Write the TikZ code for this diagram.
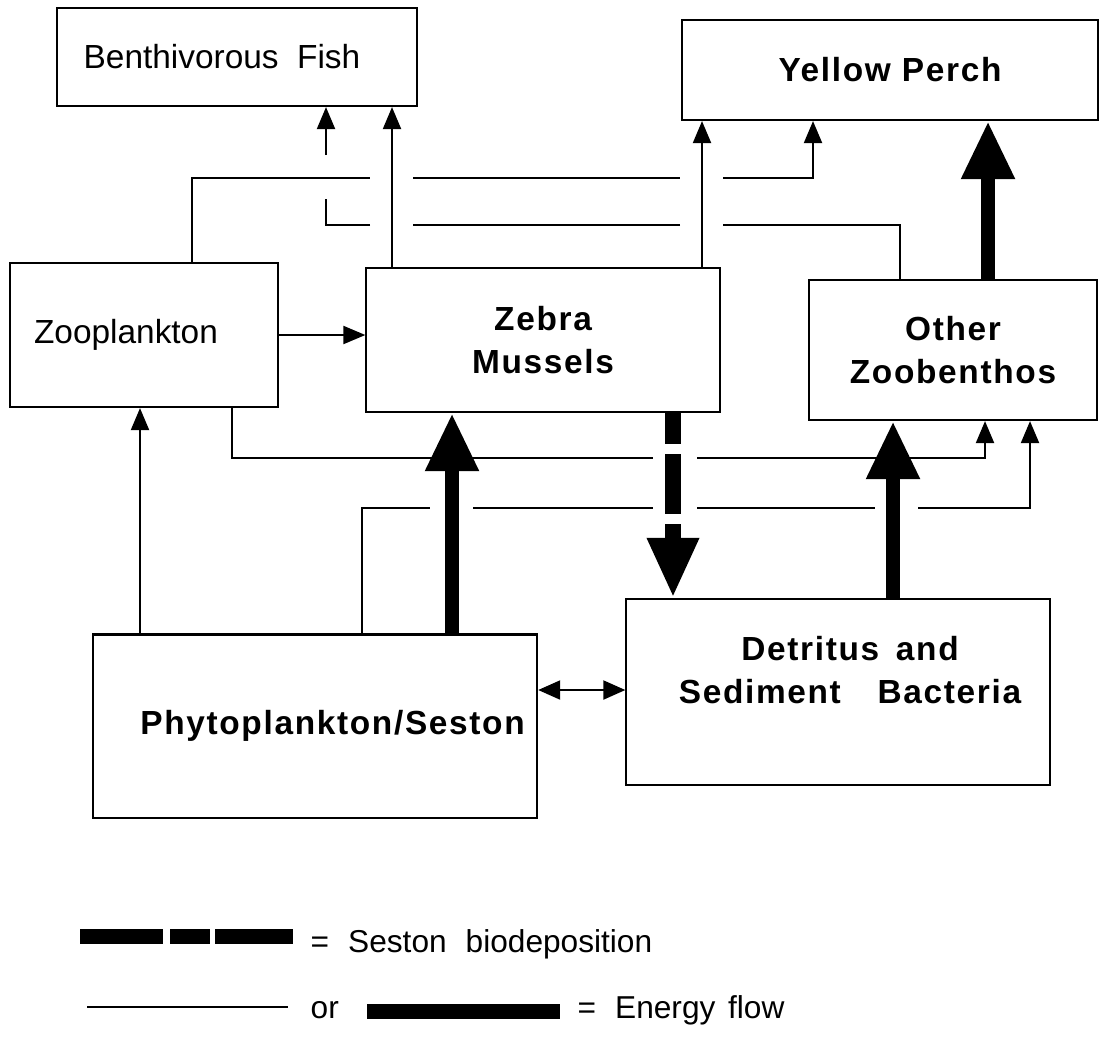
\documentclass[tikz,border=0pt]{standalone}
\usepackage{fontspec}
\setmainfont{Liberation Sans}
\newfontfamily\spaced[LetterSpace=5]{Liberation Sans}
\usetikzlibrary{arrows.meta}

\begin{document}
\begin{tikzpicture}
    [x=0.01cm, y=-0.01cm,
     box/.style={draw, line width=0.6pt, inner sep=0pt, align=center, font=\fontsize{9.5}{12}\selectfont},
     bbox/.style={box, font=\fontsize{9.5}{12.3}\selectfont\spaced\bfseries},
     wire/.style={line width=0.6pt},
     flow/.style={wire, -{Triangle[length=0.22cm,width=0.18cm]}},
     bothflow/.style={wire, {Triangle[length=0.22cm,width=0.19cm]}-{Triangle[length=0.22cm,width=0.19cm]}},
     bigflow/.style={line width=4pt, -{Triangle[length=0.58cm,width=0.5cm]}},
     deposit/.style={line width=4.3pt, dash pattern=on 0.31cm off 0.1cm on 0.6cm off 0.1cm on 0.3cm, -{Triangle[length=0.6cm,width=0.48cm]}},
     keytext/.style={anchor=base west, inner sep=0pt, font=\fontsize{9}{11}\selectfont}]
		\useasboundingbox (0,0) rectangle (1101,1036);

		\node [box, minimum width=3.59cm, minimum height=0.98cm] (bfish) at (237,57) {Benthivorous\ \ Fish\hspace*{0.3cm}};
		\node [bbox, minimum width=4.15cm, minimum height=1.0cm] (perch) at (890,70) {Yellow Perch};
		\node [box, minimum width=2.68cm, minimum height=1.44cm] (zoo) at (144,335) {Zooplankton\hspace*{0.36cm}};
		\node [bbox, minimum width=3.53cm, minimum height=1.44cm] (zebra) at (543,340) {Zebra\\Mussels};
		\node [bbox, minimum width=2.87cm, minimum height=1.40cm] (other) at (953,350) {Other\\Zoobenthos};
		\node [bbox, minimum width=4.44cm, minimum height=1.83cm] (phyto) at (315,726) {\hspace*{0.35cm}Phytoplankton/Seston};
		\node [box, minimum width=4.23cm, minimum height=1.86cm] (detritus) at (838,692) {};
		\node [bbox, draw=none] (dtext) at (850,670) {Detritus\hspace{0.5em}and\\Sediment\hspace{1.1em}Bacteria};

		% thin energy flows
		\draw[flow] (zoo.east) -- (zoo.east -| zebra.west);
		\draw[flow] (140,0 |- phyto.north) -- (140,0 |- zoo.south);
		\draw[flow] (392,0 |- zebra.north) -- (392,0 |- bfish.south);
		\draw[flow] (702,0 |- zebra.north) -- (702,0 |- perch.south);
		\draw[bothflow] (phyto.east |- 0,690) -- (detritus.west |- 0,690);

		% zooplankton to yellow perch
		\draw[wire] (192,0 |- zoo.north) -- (192,178) -- (370,178);
		\draw[wire] (413,178) -- (680,178);
		\draw[flow] (723,178) -- (813,178) -- (813,0 |- perch.south);

		% other zoobenthos to benthivorous fish
		\draw[wire] (900,0 |- other.north) -- (900,225) -- (723,225);
		\draw[wire] (680,225) -- (413,225);
		\draw[wire] (370,225) -- (326,225) -- (326,199);
		\draw[flow] (326,155) -- (326,0 |- bfish.south);

		% zooplankton to other zoobenthos
		\draw[wire] (232,0 |- zoo.south) -- (232,458) -- (653,458);
		\draw[flow] (697,458) -- (985,458) -- (985,0 |- other.south);

		% phytoplankton to other zoobenthos
		\draw[wire] (362,0 |- phyto.north) -- (362,508) -- (430,508);
		\draw[wire] (473,508) -- (653,508);
		\draw[wire] (697,508) -- (875,508);
		\draw[flow] (918,508) -- (1030,508) -- (1030,0 |- other.south);

		% heavy flows
		\draw[bigflow] (452,0 |- phyto.north) -- (452,0 |- zebra.south);
		\draw[bigflow] (893,0 |- detritus.north) -- (893,0 |- other.south);
		\draw[bigflow] (988,0 |- other.north) -- (988,0 |- perch.south);
		\draw[deposit] (673,0 |- zebra.south) -- (673,0 |- detritus.north);

		% key
		\draw[line width=0.15cm, dash pattern=on 0.83cm off 0.07cm on 0.4cm off 0.05cm on 0.78cm] (80,936) -- (293,936);
		\node [keytext] (sestonkey) at (310,952) {=\hspace{0.6em}Seston\hspace{0.6em}biodeposition};
		\draw[wire] (87,1007) -- (288,1007);
		\node [keytext] (orkey) at (310,1018) {or};
		\draw[line width=0.15cm] (367,1011) -- (560,1011);
		\node [keytext] (energykey) at (577,1018) {=\hspace{0.6em}Energy\hspace{0.4em}flow};
    \end{tikzpicture}
\end{document}
